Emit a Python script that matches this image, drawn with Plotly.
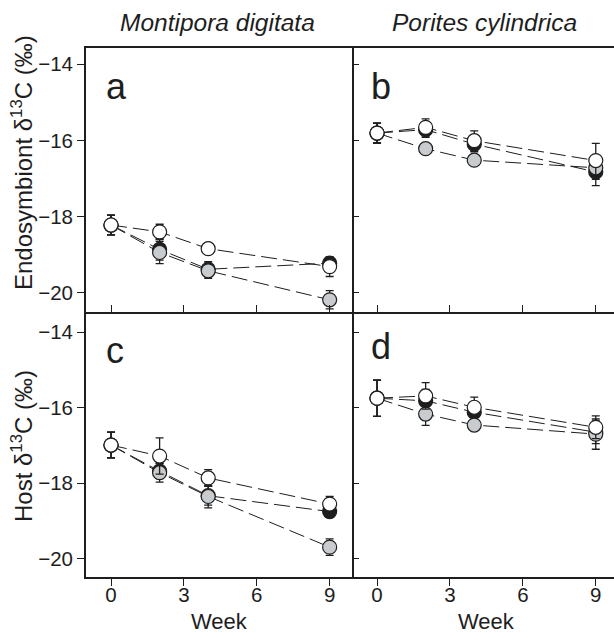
import plotly.graph_objects as go

weeks = [0, 2, 4, 9]
x_ticks = [0, 3, 6, 9]
y_ticks = [-14, -16, -18, -20]
y_tick_labels = ["\u221214", "\u221216", "\u221218", "\u221220"]

# Panel a: Montipora digitata, endosymbiont
a_white = [-18.22, -18.40, -18.84, -19.31]
a_black = [-18.22, -18.86, -19.38, -19.22]
a_grey = [-18.22, -18.94, -19.42, -20.18]
a_white_err = [0.26, 0.20, 0.10, 0.26]
a_black_err = [0.26, 0.28, 0.20, 0.10]
a_grey_err = [0.26, 0.29, 0.20, 0.24]

# Panel b: Porites cylindrica, endosymbiont
b_white = [-15.81, -15.66, -16.01, -16.53]
b_black = [-15.81, -15.72, -16.10, -16.83]
b_grey = [-15.81, -16.22, -16.52, -16.72]
b_white_err = [0.26, 0.22, 0.26, 0.45]
b_black_err = [0.26, 0.20, 0.20, 0.36]
b_grey_err = [0.26, 0.10, 0.10, 0.30]

# Panel c: Montipora digitata, host
c_white = [-16.99, -17.28, -17.86, -18.55]
c_black = [-16.99, -17.68, -18.33, -18.75]
c_grey = [-16.99, -17.72, -18.35, -19.69]
c_white_err = [0.34, 0.48, 0.22, 0.20]
c_black_err = [0.34, 0.20, 0.25, 0.15]
c_grey_err = [0.34, 0.25, 0.30, 0.22]

# Panel d: Porites cylindrica, host
d_white = [-15.75, -15.69, -15.99, -16.52]
d_black = [-15.75, -15.82, -16.12, -16.65]
d_grey = [-15.75, -16.17, -16.46, -16.70]
d_white_err = [0.48, 0.35, 0.27, 0.30]
d_black_err = [0.48, 0.30, 0.20, 0.30]
d_grey_err = [0.48, 0.30, 0.10, 0.40]

panels = [
    ("x1", "y1", a_white, a_black, a_grey, a_white_err, a_black_err, a_grey_err),
    ("x2", "y2", b_white, b_black, b_grey, b_white_err, b_black_err, b_grey_err),
    ("x3", "y3", c_white, c_black, c_grey, c_white_err, c_black_err, c_grey_err),
    ("x4", "y4", d_white, d_black, d_grey, d_white_err, d_black_err, d_grey_err),
]

INK = "#1e1e1e"
GREY = "#c9cccf"
W, H = 614, 635
FONT = "Liberation Sans, Arial, Helvetica, sans-serif"

fig = go.Figure()

for xa, ya, wv, bv, gv, we, be, ge in panels:
    for vals in (bv, gv, wv):
        fig.add_trace(go.Scatter(
            x=weeks, y=vals, xaxis=xa, yaxis=ya, mode="lines",
            line=dict(color=INK, width=1, dash="16px,6px"),
            showlegend=False, hoverinfo="skip"))
    for vals, errs, col in ((bv, be, INK), (gv, ge, GREY), (wv, we, "white")):
        fig.add_trace(go.Scatter(
            x=weeks, y=vals, xaxis=xa, yaxis=ya, mode="markers",
            marker=dict(size=14, color=col, line=dict(color=INK, width=1.2)),
            error_y=dict(type="data", array=errs, color=INK, thickness=1.3, width=4),
            showlegend=False))

def px_x(p):
    return p / W

def px_y(p):
    return 1 - p / H

X_LEFT, X_MID = 86, 352
Y_TOP, Y_MID, Y_BOT = 48, 312, 577
left_dom = [px_x(X_LEFT), px_x(X_MID)]
right_dom = [px_x(X_MID), 1.0]
top_dom = [px_y(Y_MID), px_y(Y_TOP)]
bot_dom = [px_y(Y_BOT), px_y(Y_MID)]

tickfont = dict(family=FONT, size=20.5, color=INK)
LW = 1.8

def xax(dom, rng, anchor, labels, ticks, mirror, showline=True):
    d = dict(domain=dom, range=rng, anchor=anchor, tickvals=x_ticks,
             showticklabels=labels, ticks=ticks, ticklen=7, tickcolor=INK, tickwidth=1,
             showline=showline, linecolor=INK, linewidth=LW, mirror=mirror,
             showgrid=False, zeroline=False, tickfont=tickfont)
    if labels:
        d["ticklabelstandoff"] = -9
    return d

def yax(dom, rng, anchor, labels, ticks, mirror, showline=True):
    return dict(domain=dom, range=rng, anchor=anchor, tickvals=y_ticks,
                ticktext=y_tick_labels, showticklabels=labels, ticks=ticks, ticklen=7,
                tickcolor=INK, tickwidth=1, showline=showline, linecolor=INK,
                linewidth=LW, mirror=mirror, showgrid=False, zeroline=False,
                tickfont=tickfont)

xr_left = [-1.03, 9.92]
xr_right = [-1.03, 9.75]
yr_top = [-20.50, -13.58]
yr_bot = [-20.48, -13.47]

fig.update_layout(
    width=W, height=H, margin=dict(l=0, r=0, t=0, b=0),
    paper_bgcolor="white", plot_bgcolor="white",
    font=dict(family=FONT, color=INK),
    xaxis=xax(left_dom, xr_left, "y", False, "inside", True),
    xaxis2=xax(right_dom, xr_right, "y2", False, "inside", True),
    xaxis3=xax(left_dom, xr_left, "y3", True, "outside", False),
    xaxis4=xax(right_dom, xr_right, "y4", True, "outside", False),
    yaxis=yax(top_dom, yr_top, "x", True, "outside", True),
    yaxis2=yax(top_dom, yr_top, "x2", False, "inside", False, showline=False),
    yaxis3=yax(bot_dom, yr_bot, "x3", True, "outside", True),
    yaxis4=yax(bot_dom, yr_bot, "x4", False, "inside", False, showline=False),
)

ann = []
for txt, x, y in (("a", 104, 86), ("b", 369, 86), ("c", 104, 351), ("d", 369, 346)):
    ann.append(dict(text=txt, x=px_x(x), y=px_y(y), xref="paper", yref="paper",
                    showarrow=False, xanchor="left", yanchor="middle",
                    font=dict(family=FONT, size=36, color=INK)))
for txt, x in (("<i>Montipora digitata</i>", 217), ("<i>Porites cylindrica</i>", 484)):
    ann.append(dict(text=txt, x=px_x(x), y=px_y(23), xref="paper", yref="paper",
                    showarrow=False, xanchor="center", yanchor="middle",
                    font=dict(family=FONT, size=24.5, color=INK)))
for x in (219, 486):
    ann.append(dict(text="Week", x=px_x(x), y=px_y(621), xref="paper", yref="paper",
                    showarrow=False, xanchor="center", yanchor="middle",
                    font=dict(family=FONT, size=22, color=INK)))
ann.append(dict(text="Endosymbiont \u03b4<sup>13</sup>C (\u2030)", x=px_x(22), y=px_y(163),
                xref="paper", yref="paper", showarrow=False, textangle=-90,
                xanchor="center", yanchor="middle",
                font=dict(family=FONT, size=24, color=INK)))
ann.append(dict(text="Host \u03b4<sup>13</sup>C (\u2030)", x=px_x(22), y=px_y(446),
                xref="paper", yref="paper", showarrow=False, textangle=-90,
                xanchor="center", yanchor="middle",
                font=dict(family=FONT, size=24, color=INK)))
fig.update_layout(annotations=ann)

fig.write_html(
    "out.html",
    config={"displayModeBar": False},
    post_script="document.body.style.margin='0';document.body.style.overflow='hidden';",
)
